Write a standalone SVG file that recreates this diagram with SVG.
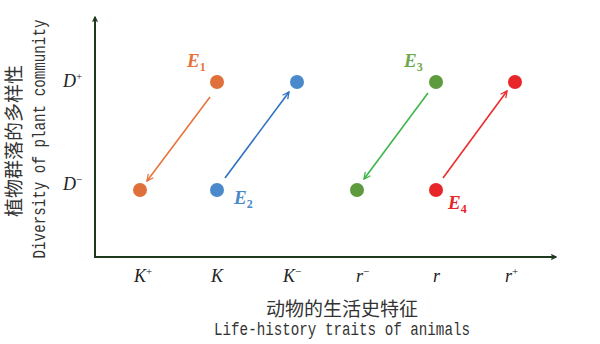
<svg xmlns="http://www.w3.org/2000/svg" width="600" height="344" viewBox="0 0 600 344">
<style>
.tick{font-family:"Liberation Serif",serif;font-style:italic;font-size:18px;fill:#222}
.sup{font-size:11px;font-style:normal}
.lab{font-family:"Liberation Serif",serif;font-style:italic;font-weight:bold;font-size:19px}
.sub{font-size:12px;font-style:normal}
.cn{font-family:"Noto Sans CJK SC",sans-serif;font-size:19px;fill:#333}
.en{font-family:"Liberation Mono",monospace;font-size:18px;fill:#333}
.axis{stroke:#1e3a1e;stroke-width:2;fill:none}
</style>
<defs>
<marker id="ax" viewBox="0 0 10 10" refX="9" refY="5" markerWidth="6" markerHeight="6" orient="auto" markerUnits="userSpaceOnUse"><path d="M1,1 L9,5 L1,9" fill="none" stroke="#1e3a1e" stroke-width="2"/></marker>
<marker id="ao" viewBox="0 0 10 10" refX="9" refY="5" markerWidth="8" markerHeight="8" orient="auto" markerUnits="userSpaceOnUse"><path d="M1,1 L9,5 L1,9" fill="none" stroke="#E8733A" stroke-width="1.6"/></marker>
<marker id="ab" viewBox="0 0 10 10" refX="9" refY="5" markerWidth="8" markerHeight="8" orient="auto" markerUnits="userSpaceOnUse"><path d="M1,1 L9,5 L1,9" fill="none" stroke="#2F72C0" stroke-width="1.6"/></marker>
<marker id="ag" viewBox="0 0 10 10" refX="9" refY="5" markerWidth="8" markerHeight="8" orient="auto" markerUnits="userSpaceOnUse"><path d="M1,1 L9,5 L1,9" fill="none" stroke="#3DB54A" stroke-width="1.6"/></marker>
<marker id="ar" viewBox="0 0 10 10" refX="9" refY="5" markerWidth="8" markerHeight="8" orient="auto" markerUnits="userSpaceOnUse"><path d="M1,1 L9,5 L1,9" fill="none" stroke="#EE2B2B" stroke-width="1.6"/></marker>
</defs>
<rect width="600" height="344" fill="#fff"/>
<g id="axes">
<path class="axis" d="M95,258 L95,17" marker-end="url(#ax)"/>
<path class="axis" d="M94,257 L556,257" marker-end="url(#ax)"/>
</g>
<g id="y-labels">
<text class="tick" x="63" y="87">D<tspan class="sup" dy="-7">+</tspan></text>
<text class="tick" x="63" y="190">D<tspan class="sup" dy="-7">−</tspan></text>
</g>
<g id="x-labels">
<text class="tick" x="134" y="282">K<tspan class="sup" dy="-7">+</tspan></text>
<text class="tick" x="211" y="282">K</text>
<text class="tick" x="283" y="282">K<tspan class="sup" dy="-7">−</tspan></text>
<text class="tick" x="356" y="282">r<tspan class="sup" dy="-7">−</tspan></text>
<text class="tick" x="433" y="282">r</text>
<text class="tick" x="505" y="282">r<tspan class="sup" dy="-7">+</tspan></text>
</g>
<g id="titles">
<text class="cn" x="342" y="316" text-anchor="middle">动物的生活史特征</text>
<text class="en" transform="translate(342,335) scale(0.79,1)" text-anchor="middle">Life-history traits of animals</text>
<text class="cn" transform="translate(21,141) rotate(-90)" text-anchor="middle">植物群落的多样性</text>
<text class="en" transform="translate(45,139) rotate(-90) scale(0.79,1)" text-anchor="middle">Diversity of plant community</text>
</g>
<g id="connectors" stroke-width="1.6" fill="none">
<path d="M210,97 L147,181" stroke="#E8733A" marker-end="url(#ao)"/>
<path d="M225,178 L289,92" stroke="#2F72C0" marker-end="url(#ab)"/>
<path d="M428,93 L364,179" stroke="#3DB54A" marker-end="url(#ag)"/>
<path d="M443,178 L507,91" stroke="#EE2B2B" marker-end="url(#ar)"/>
</g>
<g id="E1">
<circle cx="217" cy="82" r="7" fill="#E0703A"/>
<circle cx="140" cy="190" r="7" fill="#E0703A"/>
<text class="lab" x="187" y="67" fill="#E8733A">E<tspan class="sub" dy="4">1</tspan></text>
</g>
<g id="E2">
<circle cx="217" cy="190" r="7" fill="#4A8ACB"/>
<circle cx="297" cy="82" r="7" fill="#4A8ACB"/>
<text class="lab" x="234" y="204" fill="#4A8ACB">E<tspan class="sub" dy="4">2</tspan></text>
</g>
<g id="E3">
<circle cx="436" cy="82" r="7" fill="#5E9A3E"/>
<circle cx="357" cy="190" r="7" fill="#5E9A3E"/>
<text class="lab" x="404" y="67" fill="#6FA84A">E<tspan class="sub" dy="4">3</tspan></text>
</g>
<g id="E4">
<circle cx="436" cy="190" r="7" fill="#E8262A"/>
<circle cx="515" cy="82" r="7" fill="#E8262A"/>
<text class="lab" x="448" y="209" fill="#E8262A">E<tspan class="sub" dy="4">4</tspan></text>
</g>
</svg>
